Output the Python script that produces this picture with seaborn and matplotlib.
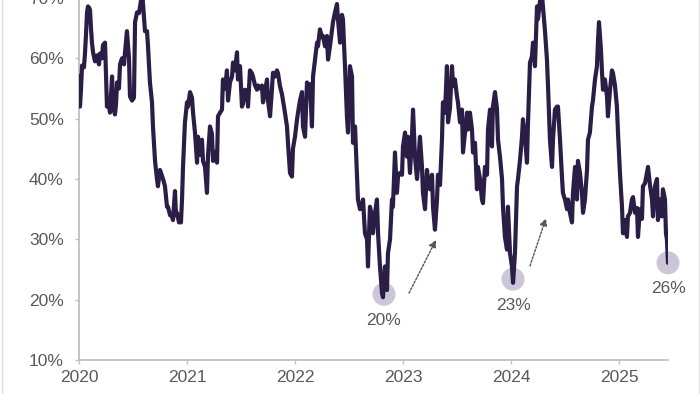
import matplotlib
matplotlib.use("Agg")
import matplotlib.pyplot as plt
import seaborn as sns
import pandas as pd
from matplotlib.lines import Line2D
from matplotlib.ticker import FuncFormatter

# ---- data: offsets within each year (fraction of year) and values (%) ----
t_2020 = [0.000, 0.009, 0.019, 0.028, 0.046, 0.056, 0.065, 0.074, 0.083, 0.093, 0.102, 0.111, 0.120, 0.130,
          0.148, 0.167, 0.185, 0.194, 0.213, 0.222, 0.241, 0.250, 0.259, 0.269, 0.287, 0.296, 0.306, 0.315,
          0.333, 0.343, 0.352, 0.370, 0.380, 0.398, 0.417, 0.426, 0.444, 0.454, 0.463, 0.472, 0.491, 0.509,
          0.519, 0.537, 0.556, 0.574, 0.583, 0.593, 0.611, 0.630, 0.639, 0.657, 0.676, 0.685, 0.704, 0.722,
          0.731, 0.750, 0.769, 0.778, 0.796, 0.815, 0.824, 0.843, 0.861, 0.870, 0.889, 0.898, 0.907, 0.926,
          0.935, 0.944, 0.954, 0.963, 0.981]
v_2020 = [57.0, 52.0, 55.0, 58.8, 58.5, 61.0, 64.0, 67.5, 68.6, 68.4, 68.0, 65.0, 62.6, 61.0,
          59.5, 60.5, 59.0, 60.8, 60.0, 62.2, 62.6, 57.0, 52.0, 53.0, 51.0, 54.0, 57.0, 52.0,
          50.7, 52.5, 56.0, 55.0, 59.0, 60.0, 59.0, 61.0, 64.5, 62.0, 60.0, 53.7, 53.0, 53.5,
          66.0, 67.6, 67.5, 69.5, 71.0, 69.0, 64.5, 64.5, 62.0, 56.0, 52.7, 48.7, 43.0, 40.0,
          38.8, 41.5, 40.5, 40.0, 38.8, 35.4, 35.4, 34.0, 33.8, 33.2, 38.0, 34.0, 34.4, 32.8,
          33.5, 32.8, 36.6, 42.0, 49.4]

t_2021 = [0.000, 0.009, 0.028, 0.046, 0.056, 0.074, 0.093, 0.102, 0.120, 0.139, 0.148, 0.167, 0.185, 0.194,
          0.213, 0.231, 0.241, 0.259, 0.278, 0.287, 0.306, 0.324, 0.333, 0.352, 0.370, 0.380, 0.398, 0.417,
          0.426, 0.444, 0.463, 0.472, 0.491, 0.509, 0.519, 0.537, 0.556, 0.565, 0.583, 0.602, 0.611, 0.630,
          0.648, 0.657, 0.676, 0.694, 0.704, 0.722, 0.741, 0.750, 0.769, 0.787, 0.796, 0.815, 0.833, 0.843,
          0.861, 0.880, 0.889, 0.907, 0.926, 0.935, 0.954, 0.972, 0.981]
v_2021 = [52.7, 52.0, 54.4, 53.5, 51.0, 47.7, 42.7, 47.0, 44.0, 46.5, 43.0, 42.0, 37.7, 43.7,
          48.7, 47.5, 43.0, 44.5, 42.7, 50.4, 51.0, 51.5, 56.5, 55.0, 58.0, 53.0, 56.0, 57.0,
          59.3, 58.0, 61.0, 56.5, 58.7, 52.0, 52.5, 54.8, 54.5, 52.0, 58.0, 57.5, 57.0, 55.5,
          54.8, 55.5, 55.0, 55.5, 52.7, 54.5, 56.5, 53.0, 50.4, 55.0, 57.6, 57.0, 58.0, 57.5,
          55.4, 54.0, 53.0, 51.0, 48.7, 46.0, 41.0, 40.4, 45.0]

t_2022 = [0.000, 0.019, 0.028, 0.046, 0.065, 0.074, 0.093, 0.111, 0.120, 0.139, 0.157, 0.167, 0.185, 0.204,
          0.213, 0.231, 0.250, 0.259, 0.278, 0.296, 0.306, 0.324, 0.343, 0.352, 0.370, 0.389, 0.398, 0.417,
          0.435, 0.444, 0.463, 0.481, 0.491, 0.509, 0.528, 0.537, 0.556, 0.574, 0.583, 0.602, 0.620, 0.630,
          0.648, 0.667, 0.676, 0.694, 0.713, 0.722, 0.741, 0.759, 0.769, 0.787, 0.806, 0.815, 0.833, 0.852,
          0.861, 0.880, 0.898, 0.907, 0.926, 0.944, 0.954, 0.972, 0.991]
v_2022 = [47.0, 49.9, 51.0, 53.0, 54.4, 48.7, 47.0, 56.0, 55.5, 55.7, 48.7, 57.0, 59.8, 62.6,
          62.0, 64.8, 63.5, 63.7, 62.0, 63.7, 59.8, 62.0, 64.8, 66.0, 67.6, 69.0, 66.5, 62.6,
          67.2, 66.5, 58.7, 50.4, 47.7, 58.7, 57.0, 46.0, 48.7, 40.4, 36.6, 35.0, 35.5, 36.6,
          31.0, 30.0, 25.5, 35.4, 33.8, 31.0, 34.4, 36.6, 31.0, 25.5, 21.0, 20.4, 25.5, 21.6,
          27.7, 30.0, 36.6, 35.4, 44.4, 37.7, 40.4, 41.0, 40.7]

t_2023 = [0.000, 0.019, 0.037, 0.046, 0.065, 0.083, 0.093, 0.111, 0.130, 0.139, 0.157, 0.176, 0.185, 0.204,
          0.222, 0.231, 0.250, 0.269, 0.278, 0.296, 0.315, 0.324, 0.343, 0.361, 0.370, 0.389, 0.407, 0.417,
          0.435, 0.454, 0.463, 0.481, 0.500, 0.509, 0.528, 0.546, 0.556, 0.574, 0.593, 0.602, 0.620, 0.639,
          0.648, 0.667, 0.685, 0.694, 0.713, 0.731, 0.741, 0.759, 0.778, 0.787, 0.806, 0.824, 0.833, 0.852,
          0.870, 0.880, 0.898, 0.917, 0.926, 0.944, 0.963, 0.972, 0.991]
v_2023 = [45.4, 47.7, 43.7, 47.0, 41.0, 47.0, 51.5, 43.7, 40.0, 42.0, 47.0, 42.0, 37.7, 35.0,
          41.5, 40.0, 38.3, 40.7, 35.4, 31.6, 36.6, 40.7, 39.0, 46.5, 52.7, 51.0, 58.7, 49.4,
          51.7, 58.7, 55.4, 56.5, 53.7, 52.7, 49.4, 51.5, 44.4, 47.7, 51.0, 48.2, 51.0, 48.2,
          44.4, 46.0, 38.3, 42.0, 40.0, 36.6, 36.0, 42.0, 40.7, 48.2, 51.5, 45.4, 52.0, 54.4,
          51.7, 46.5, 43.7, 40.0, 35.4, 30.4, 28.3, 35.4, 27.7]

t_2024 = [0.009, 0.019, 0.037, 0.056, 0.065, 0.083, 0.102, 0.111, 0.130, 0.148, 0.157, 0.176, 0.194, 0.204,
          0.222, 0.241, 0.250, 0.269, 0.287, 0.296, 0.315, 0.333, 0.343, 0.361, 0.380, 0.389, 0.407, 0.426,
          0.435, 0.454, 0.472, 0.481, 0.500, 0.519, 0.528, 0.546, 0.565, 0.574, 0.593, 0.611, 0.620, 0.639,
          0.657, 0.667, 0.685, 0.704, 0.713, 0.731, 0.750, 0.759, 0.778, 0.796, 0.806, 0.815, 0.833, 0.843,
          0.852, 0.870, 0.889, 0.898, 0.917, 0.935, 0.944, 0.963, 0.981, 0.991]
v_2024 = [25.5, 22.8, 27.7, 38.8, 40.0, 43.0, 47.0, 49.9, 47.0, 42.7, 49.0, 59.3, 60.3, 62.6,
          58.7, 68.6, 66.5, 69.5, 70.5, 68.6, 64.5, 59.8, 55.4, 46.5, 42.0, 46.5, 51.5, 52.0,
          52.0, 46.5, 40.4, 37.7, 36.6, 35.0, 36.6, 34.4, 32.8, 37.7, 42.0, 36.6, 43.0, 41.0,
          37.7, 34.4, 36.6, 41.5, 46.5, 47.7, 52.0, 53.0, 56.5, 58.7, 63.0, 66.0, 61.5, 57.6,
          54.8, 56.5, 53.7, 50.4, 54.8, 58.0, 57.6, 55.5, 52.0, 47.7]

t_2025 = [0.009, 0.028, 0.037, 0.056, 0.074, 0.083, 0.102, 0.120, 0.130, 0.148, 0.167, 0.176, 0.194, 0.213,
          0.222, 0.241, 0.259, 0.269, 0.287, 0.306, 0.315, 0.333, 0.352, 0.361, 0.380, 0.398, 0.407, 0.426,
          0.435, 0.444, 0.454]
v_2025 = [41.0, 35.4, 31.0, 33.2, 30.4, 33.8, 34.4, 36.6, 37.0, 34.4, 35.2, 30.4, 35.0, 33.4,
          38.8, 39.3, 41.0, 42.0, 39.0, 36.6, 33.8, 38.8, 40.0, 33.2, 36.6, 33.8, 38.3, 36.6,
          31.0, 30.0, 26.1]

year_ticks = [2020, 2021, 2022, 2023, 2024, 2025]
pct_ticks = [10, 20, 30, 40, 50, 60, 70]

low_years = [2022.824, 2024.019, 2025.454]
low_values = [20.9, 23.4, 26.1]
low_labels = ["20%", "23%", "26%"]
low_label_values = [16.6, 19.0, 21.8]

arrow_starts = [(2023.056, 21.1), (2024.176, 25.6)]
arrow_ends = [(2023.306, 29.9), (2024.324, 33.5)]

# ---- build table ----
segments = [(2020, t_2020, v_2020), (2021, t_2021, v_2021), (2022, t_2022, v_2022),
            (2023, t_2023, v_2023), (2024, t_2024, v_2024), (2025, t_2025, v_2025)]
rows = []
for yr, ts, vs in segments:
    for t, v in zip(ts, vs):
        rows.append((yr + t, v))
df = pd.DataFrame(rows, columns=["year", "share"])

# ---- style ----
LINE = "#2a1e47"
GREY_TXT = "#595959"
SPINE = "#bfbfbf"
CIRCLE = "#cbc7d9"

sns.set_style("white")
plt.rcParams["font.family"] = ["Liberation Sans", "DejaVu Sans"]

fig = plt.figure(figsize=(7, 3.94), dpi=100)
ax = fig.add_axes([79 / 700, 34 / 394, 589 / 700, 362 / 394])

sns.scatterplot(x=low_years, y=low_values, ax=ax, s=275, color=CIRCLE,
                edgecolor="none", zorder=2, clip_on=False, legend=False)
sns.lineplot(data=df, x="year", y="share", ax=ax, color=LINE, linewidth=3.0,
             estimator=None, sort=False, zorder=3)

for xv, yv, lab in zip(low_years, low_label_values, low_labels):
    ax.text(xv, yv, lab, ha="center", va="center", fontsize=12.5, color=GREY_TXT, clip_on=False)

for s, e in zip(arrow_starts, arrow_ends):
    ax.annotate("", xy=e, xytext=s,
                arrowprops=dict(arrowstyle="-|>", color="#555555", lw=1.0,
                                linestyle=(0, (1.5, 1.2)), mutation_scale=11,
                                shrinkA=0, shrinkB=0))

ax.set_xlim(2020, 2025.454)
ax.set_ylim(10, 70)
ax.set_xticks(year_ticks)
ax.set_xticklabels([str(y) for y in year_ticks])
ax.set_yticks(pct_ticks)
ax.yaxis.set_major_formatter(FuncFormatter(lambda v, _: f"{v:.0f}%"))
ax.set_xlabel("")
ax.set_ylabel("")

for side in ["top", "right"]:
    ax.spines[side].set_visible(False)
for side in ["left", "bottom"]:
    ax.spines[side].set_color(SPINE)
    ax.spines[side].set_linewidth(1.3)

ax.tick_params(axis="y", length=3, width=1, color=SPINE, labelsize=12.5,
               labelcolor=GREY_TXT, pad=8, left=True)
ax.tick_params(axis="x", length=3, width=1, color=SPINE, labelsize=12.5,
               labelcolor=GREY_TXT, pad=4, bottom=True)

# faint frame edges of the original image
fig.add_artist(Line2D([1.5 / 700, 1.5 / 700], [0, 1], transform=fig.transFigure, color="#dedede", lw=1))
fig.add_artist(Line2D([698.5 / 700, 698.5 / 700], [0, 1], transform=fig.transFigure, color="#e6e6e6", lw=1))

fig.savefig("out.png", dpi=100)
